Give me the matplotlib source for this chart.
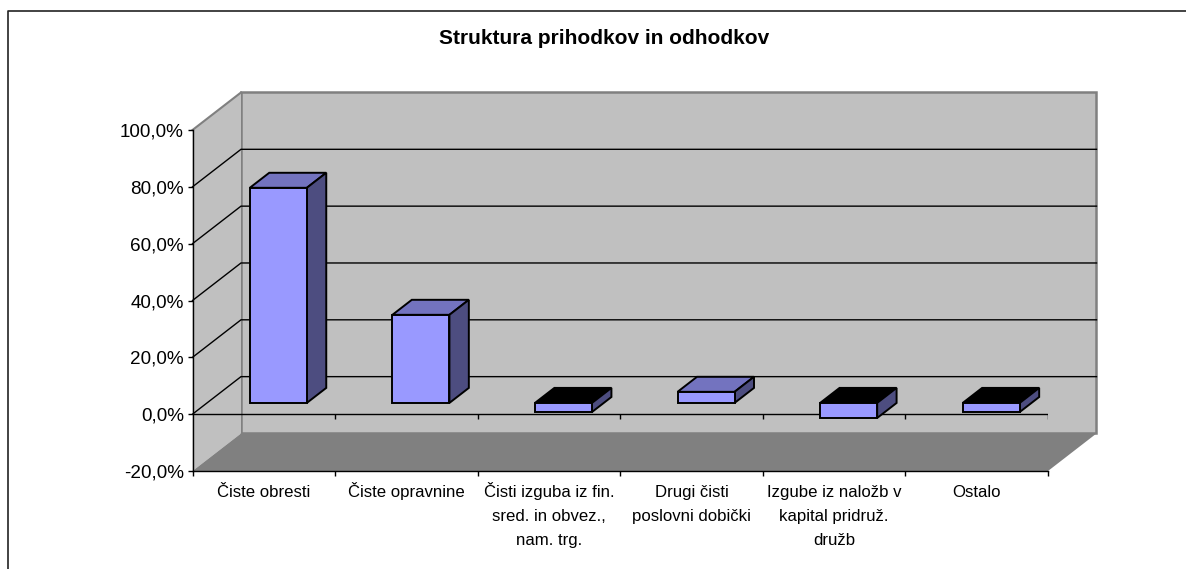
import matplotlib
matplotlib.use('Agg')
import matplotlib.pyplot as plt
from matplotlib.patches import Polygon
from matplotlib.lines import Line2D

matplotlib.rcParams['font.family'] = ['Liberation Sans', 'DejaVu Sans']

title = 'Struktura prihodkov in odhodkov'
categories = ['Čiste obresti', 'Čiste opravnine',
              'Čisti izguba iz fin.\nsred. in obvez.,\nnam. trg.',
              'Drugi čisti\nposlovni dobički',
              'Izgube iz naložb v\nkapital pridruž.\ndružb', 'Ostalo']
values = [75.7, 31.0, -3.2, 3.9, -5.3, -3.2]
y_ticks = [-20, 0, 20, 40, 60, 80, 100]

W, H = 1186, 569
# depth of the fake 3d box, in data units
DX = 48.5 / 142.6
DY = 37.5 / 2.84
n = len(categories)


def pr(x, y, d=0.0):
    return (x + d * DX, y + d * DY)


fig = plt.figure(figsize=(W / 100, H / 100), dpi=100)
ax = fig.add_axes([192.5 / W, 1 - 471 / H, (1048 - 192.5) / W, (471 - 130) / H])
ax.set_xlim(0, n)
ax.set_ylim(-20, 100)
ax.patch.set_visible(False)

wall = '#C0C0C0'
edge = '#808080'
# back wall, side wall, floor
ax.add_patch(Polygon([pr(0, -20, 1), pr(n, -20, 1), pr(n, 100, 1), pr(0, 100, 1)],
                     fc=wall, ec=edge, lw=1.8, clip_on=False, zorder=1))
ax.add_patch(Polygon([pr(0, -20), pr(0, -20, 1), pr(0, 100, 1), pr(0, 100)],
                     fc=wall, ec='none', clip_on=False, zorder=1))
ax.plot(*zip(pr(0, 100), pr(0, 100, 1)), color=edge, lw=1.5, clip_on=False, zorder=1.2)
ax.add_patch(Polygon([pr(0, -20), pr(n, -20), pr(n, -20, 1), pr(0, -20, 1)],
                     fc='#808080', ec='none', clip_on=False, zorder=1.1))

for t in y_ticks[1:-1]:
    ax.plot(*zip(pr(0, t), pr(0, t, 1), pr(n, t, 1)), color='black', lw=1,
            clip_on=False, zorder=1.2, solid_joinstyle='miter')

# front line at zero with its own ticks
ax.axhline(0, color='black', lw=1, zorder=2)
ax.vlines(range(1, n + 1), -1.8, 0, color='black', lw=1, zorder=2)

# bars
for i, v in enumerate(values):
    x0, x1 = i + 0.3, i + 0.7
    d0, d1 = 0.3, 0.7
    top_col = '#7373BF' if v > 0 else 'black'
    y_top = max(v, 0)
    y_bot = min(v, 0)
    kw = dict(ec='black', lw=1.4, joinstyle='miter', clip_on=False, zorder=3)
    ax.add_patch(Polygon([pr(x0, y_top, d0), pr(x1, y_top, d0), pr(x1, y_top, d1), pr(x0, y_top, d1)],
                         fc=top_col, **kw))
    ax.add_patch(Polygon([pr(x1, y_bot, d0), pr(x1, y_bot, d1), pr(x1, y_top, d1), pr(x1, y_top, d0)],
                         fc='#4D4D80', **kw))
    ax.add_patch(Polygon([pr(x0, y_bot, d0), pr(x1, y_bot, d0), pr(x1, y_top, d0), pr(x0, y_top, d0)],
                         fc='#9999FF', **kw))

for s in ['top', 'right']:
    ax.spines[s].set_visible(False)
for s in ['left', 'bottom']:
    ax.spines[s].set_linewidth(1)
    ax.spines[s].set_zorder(2)

ax.set_yticks(y_ticks)
ax.set_yticklabels([f'{t:.1f}%'.replace('.', ',') for t in y_ticks], fontsize=13.6)
ax.tick_params(axis='y', length=3.8, width=1, pad=2.5)
ax.set_xticks(range(n + 1))
ax.set_xticklabels([])
ax.tick_params(axis='x', which='major', length=3.8, width=1)

# category labels, one text per line so the baselines line up across categories
for i, label in enumerate(categories):
    for j, line in enumerate(label.split('\n')):
        ax.annotate(line, xy=(i + 0.5, 0), xycoords=('data', 'axes fraction'),
                    xytext=(0, -(26 + 24 * j) * 0.72), textcoords='offset points',
                    ha='center', va='baseline', fontsize=12.1, annotation_clip=False)

fig.text(604 / W, 1 - 38.5 / H, title, ha='center', va='center', fontsize=15, fontweight='bold')

# chart frame, cropped at right and bottom
fig.add_artist(Line2D([8 / W, 8 / W, 1], [0, 1 - 10.5 / H, 1 - 10.5 / H], color='#222222', lw=1.2))

fig.savefig('out.png', dpi=100)
